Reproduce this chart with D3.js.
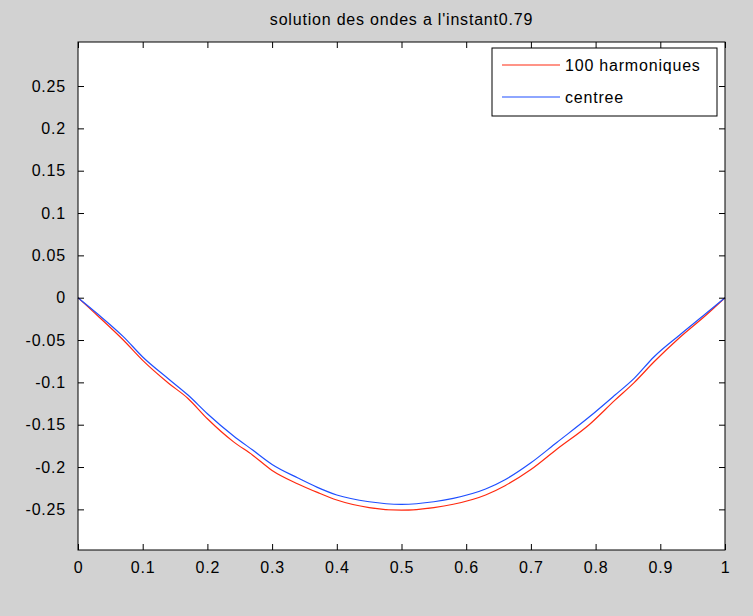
<!DOCTYPE html>
<html>
<head>
<meta charset="utf-8">
<script src="https://cdn.jsdelivr.net/npm/d3@7"></script>
<style>
  body { margin: 0; background: #d2d2d2; }
  text { font-family: "Liberation Sans", Arial, sans-serif; letter-spacing: 0.8px; }
</style>
</head>
<body>
<div id="chart"></div>
<script>
// values
const xs = [0, 0.03, 0.07, 0.10, 0.14, 0.17, 0.20, 0.24, 0.27, 0.30, 0.34, 0.37, 0.40, 0.45,
            0.50, 0.55, 0.58, 0.63, 0.66, 0.70, 0.74, 0.79, 0.83, 0.86, 0.89, 0.93, 0.97, 1];
const harmoniques = [0, -0.021, -0.050, -0.074, -0.101, -0.119, -0.143, -0.170, -0.186, -0.204,
                     -0.220, -0.230, -0.239, -0.248, -0.251, -0.248, -0.244, -0.233, -0.222,
                     -0.203, -0.179, -0.150, -0.121, -0.100, -0.076, -0.047, -0.021, 0];
const centree = [0, -0.019, -0.046, -0.070, -0.096, -0.115, -0.137, -0.163, -0.180, -0.197,
                 -0.213, -0.224, -0.233, -0.241, -0.244, -0.241, -0.237, -0.226, -0.215,
                 -0.195, -0.171, -0.141, -0.115, -0.095, -0.070, -0.044, -0.019, 0];
const xTicks = [0, 0.1, 0.2, 0.3, 0.4, 0.5, 0.6, 0.7, 0.8, 0.9, 1];
const xTickLabels = ["0", "0.1", "0.2", "0.3", "0.4", "0.5", "0.6", "0.7", "0.8", "0.9", "1"];
const yTicks = [-0.25, -0.2, -0.15, -0.1, -0.05, 0, 0.05, 0.1, 0.15, 0.2, 0.25];
const yTickLabels = ["-0.25", "-0.2", "-0.15", "-0.1", "-0.05", "0", "0.05", "0.1", "0.15", "0.2", "0.25"];
const seriesNames = ["100 harmoniques", "centree"];
const seriesColors = ["#ff2a10", "#1f4fff"];

const width = 753;
const height = 616;
const margin = { top: 42, right: 28, bottom: 66, left: 78 };
const fontSize = "16px";

const svg = d3.select("#chart")
    .append("svg")
    .attr("width", width)
    .attr("height", height);

svg.append("rect")
    .attr("width", width)
    .attr("height", height)
    .attr("fill", "#d2d2d2");

const x = d3.scaleLinear().domain([0, 1]).range([margin.left, width - margin.right]);
const y = d3.scaleLinear().domain([-0.298, 0.302]).range([height - margin.bottom, margin.top]);

// axes area
svg.append("rect")
    .attr("x", x(0))
    .attr("y", y(0.302))
    .attr("width", x(1) - x(0))
    .attr("height", y(-0.298) - y(0.302))
    .attr("fill", "white");

// curves
const line = d3.line()
    .x((d, i) => x(xs[i]))
    .y(d => y(d))
    .curve(d3.curveMonotoneX);

[harmoniques, centree].forEach((vals, k) => {
    svg.append("path")
        .datum(vals)
        .attr("d", line)
        .attr("fill", "none")
        .attr("stroke", seriesColors[k])
        .attr("stroke-width", 1.2);
});

// axes with inward ticks on all four sides
function styleAxis(g) {
    g.select(".domain").remove();
    g.selectAll("line").attr("stroke", "black");
    g.selectAll("text")
        .attr("fill", "black")
        .style("font-size", fontSize)
        .style("font-family", "'Liberation Sans', Arial, sans-serif");
}

svg.append("g")
    .attr("transform", "translate(0," + y(-0.298) + ")")
    .call(d3.axisBottom(x).tickValues(xTicks).tickSizeInner(-6).tickSizeOuter(0)
        .tickPadding(12).tickFormat((d, i) => xTickLabels[i]))
    .call(styleAxis);

svg.append("g")
    .attr("transform", "translate(0," + y(0.302) + ")")
    .call(d3.axisTop(x).tickValues(xTicks).tickSizeInner(-6).tickSizeOuter(0).tickFormat(""))
    .call(styleAxis);

svg.append("g")
    .attr("transform", "translate(" + x(0) + ",0)")
    .call(d3.axisLeft(y).tickValues(yTicks).tickSizeInner(-6).tickSizeOuter(0)
        .tickPadding(12).tickFormat((d, i) => yTickLabels[i]))
    .call(styleAxis);

svg.append("g")
    .attr("transform", "translate(" + x(1) + ",0)")
    .call(d3.axisRight(y).tickValues(yTicks).tickSizeInner(-6).tickSizeOuter(0).tickFormat(""))
    .call(styleAxis);

svg.append("rect")
    .attr("x", x(0))
    .attr("y", y(0.302))
    .attr("width", x(1) - x(0))
    .attr("height", y(-0.298) - y(0.302))
    .attr("fill", "none")
    .attr("stroke", "black")
    .attr("stroke-width", 1);

// title
svg.append("text")
    .attr("x", (x(0) + x(1)) / 2)
    .attr("y", 25)
    .attr("text-anchor", "middle")
    .style("font-size", fontSize)
    .text("solution des ondes a l'instant0.79");

// legend
const legend = svg.append("g").attr("transform", "translate(492,48)");

legend.append("rect")
    .attr("width", 225)
    .attr("height", 68)
    .attr("fill", "white")
    .attr("stroke", "black");

const items = legend.selectAll(".legend")
    .data(seriesNames)
    .enter()
    .append("g")
    .attr("class", "legend")
    .attr("transform", (d, i) => "translate(0," + (17 + i * 32) + ")");

items.append("line")
    .attr("x1", 10)
    .attr("x2", 68)
    .attr("stroke", (d, i) => seriesColors[i])
    .attr("stroke-width", 1.2);

items.append("text")
    .attr("x", 73)
    .attr("y", 6)
    .style("font-size", fontSize)
    .text(d => d);
</script>
</body>
</html>
